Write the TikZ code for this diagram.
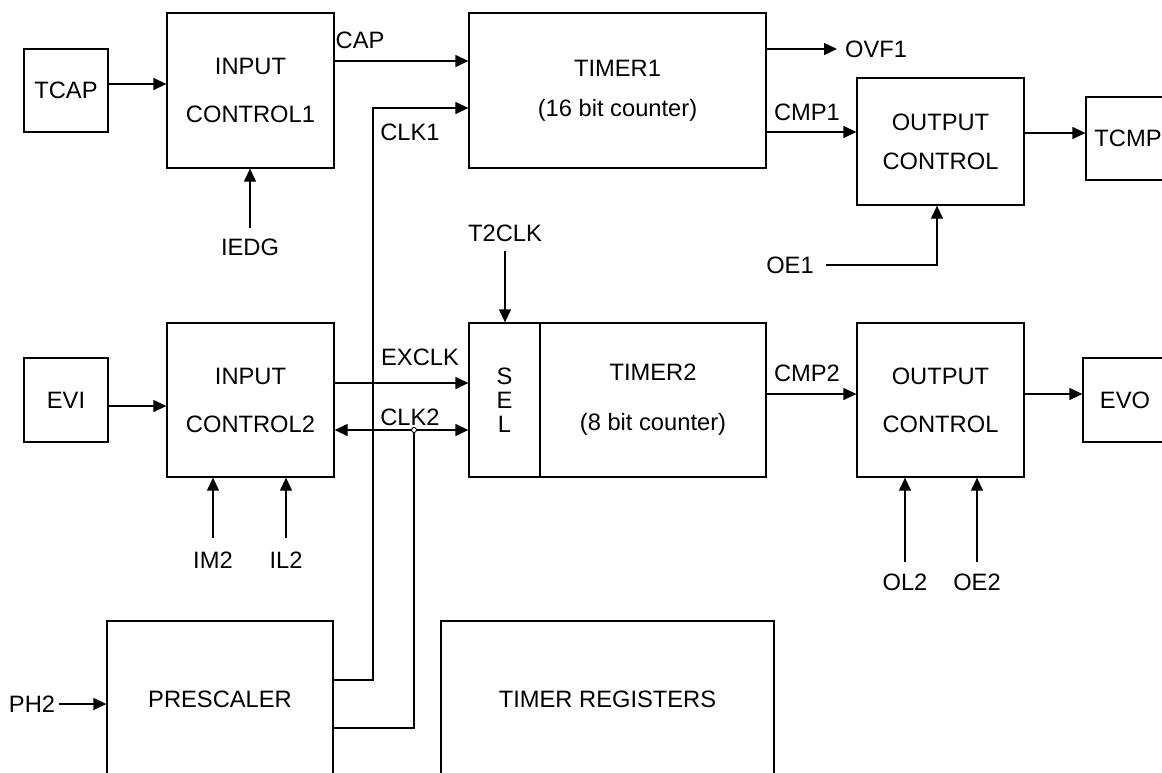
\documentclass[tikz,border=0pt]{standalone}
\usepackage{fontspec}
\setmainfont{Liberation Sans}
\usetikzlibrary{arrows.meta}

\tikzset{
	blk/.style={draw, line width=1.3pt, inner sep=0pt, align=center},
	lbl/.style={inner sep=0pt},
	sig/.style={line width=1.3pt, -{Triangle[length=13pt,width=12pt]}},
	sigb/.style={line width=1.3pt, {Triangle[length=13pt,width=12pt]}-{Triangle[length=13pt,width=12pt]}},
	wire/.style={line width=1.3pt},
}

\begin{document}
\begin{tikzpicture}[x=1pt, y=-1pt, font=\fontsize{23.7pt}{28pt}\selectfont]
	\useasboundingbox (0,0) rectangle (1162,772);
	\clip (0,0) rectangle (1162,772);

	% timer 1 row
	\node [blk, minimum width=84, minimum height=83] (tcap) at (66,90.5) {TCAP};
	\node [blk, minimum width=167, minimum height=155] (icA) at (250.5,90.5) {INPUT\\[20pt]CONTROL1};
	\node [blk, minimum width=297, minimum height=155] (timA) at (617.5,90.5) {TIMER1\\[12pt](16 bit counter)};
	\node [blk, minimum width=167, minimum height=127] (ocA) at (940.5,141.5) {OUTPUT\\[11pt]CONTROL};
	\node [blk, minimum width=84, minimum height=83] (tcmp) at (1128,138.5) {TCMP};

	% timer 2 row
	\node [blk, minimum width=84, minimum height=84] (evi) at (66,400) {EVI};
	\node [blk, minimum width=167, minimum height=154] (icB) at (250.5,400) {INPUT\\[20pt]CONTROL2};
	\node [blk, minimum width=71, minimum height=154, font=\fontsize{23.7pt}{24pt}\selectfont] (sel) at (504.5,400) {S\\E\\L};
	\node [blk, minimum width=226, minimum height=154] (timB) at (653,400) {TIMER2\\[22pt](8 bit counter)};
	\node [blk, minimum width=167, minimum height=154] (ocB) at (940.5,400) {OUTPUT\\[20pt]CONTROL};
	\node [blk, minimum width=84, minimum height=84] (evo) at (1125,400) {EVO};

	% bottom row
	\node [blk, minimum width=226, minimum height=156] (pre) at (220,699) {PRESCALER};
	\node [blk, minimum width=333, minimum height=156] (treg) at (607.5,699) {TIMER REGISTERS};

	% signal names
	\node [lbl] (iedg) at (250,247) {IEDG};
	\node [lbl] (oe1) at (790,265) {OE1};
	\node [lbl] (t2clk) at (505,233) {T2CLK};
	\node [lbl] (im2) at (213,560) {IM2};
	\node [lbl] (il2) at (286,560) {IL2};
	\node [lbl] (ol2) at (905,582) {OL2};
	\node [lbl] (oe2) at (977,582) {OE2};
	\node [lbl] (ph2) at (32,704) {PH2};
	\node [lbl, anchor=west] (ovf1) at (845,49) {OVF1};
	\node [lbl] (cap) at (360,40) {CAP};
	\node [lbl] (clkA) at (410,132) {CLK1};
	\node [lbl] (cmpA) at (807,112) {CMP1};
	\node [lbl] (exclk) at (420,357) {EXCLK};
	\node [lbl] (clkB) at (410,417) {CLK2};
	\node [lbl] (cmpB) at (807,373) {CMP2};

	\coordinate (jn) at (414,430);

	% timer 1 paths
	\draw [sig] ([yshift=6.5pt]tcap.east) coordinate (a1) -- (a1 -| icA.west);
	\draw [sig, shorten <=10pt] (iedg) -- (iedg |- icA.south);
	\draw [sig] ([yshift=29.5pt]icA.east) coordinate (a2) -- (a2 -| timA.west);
	\draw [sig] ([yshift=41.5pt]timA.east) coordinate (a3) -- ([xshift=-8pt]ovf1.west);
	\draw [sig] ([yshift=-41.5pt]timA.east) coordinate (a4) -- (a4 -| ocA.west);
	\draw [sig, shorten <=12pt] (oe1) -| ([xshift=-3.5pt]ocA.south);
	\draw [sig] ([yshift=8.5pt]ocA.east) coordinate (a5) -- (a5 -| tcmp.west);

	% timer 2 paths
	\draw [sig] ([yshift=-6pt]evi.east) coordinate (b1) -- (b1 -| icB.west);
	\draw [sig, shorten <=14pt] (im2) -- (im2 |- icB.south);
	\draw [sig, shorten <=14pt] (il2) -- (il2 |- icB.south);
	\draw [sig, shorten <=9.5pt] (t2clk) -- (t2clk |- sel.north);
	\draw [sig] ([yshift=17pt]icB.east) coordinate (b2) -- (b2 -| sel.west);
	\draw [sigb] ([yshift=-30pt]icB.east) coordinate (b3) -- (b3 -| sel.west);
	\draw [sig] ([yshift=6pt]timB.east) coordinate (b4) -- (b4 -| ocB.west);
	\draw [sig] ([yshift=6pt]ocB.east) coordinate (b5) -- (b5 -| evo.west);
	\draw [sig, shorten <=11.5pt] (ol2) -- (ol2 |- ocB.south);
	\draw [sig, shorten <=11.5pt] (oe2) -- (oe2 |- ocB.south);

	% prescaler clocks
	\draw [sig, shorten <=4pt] (ph2) -- (ph2 -| pre.west);
	\draw [sig] ([yshift=19pt]pre.east) -- (373,680) |- ([yshift=-17.5pt]timA.west);
	\draw [wire] ([yshift=-29pt]pre.east) -| (jn);
	\draw [line width=0.9pt, fill=white] (jn) circle (2.5pt);
\end{tikzpicture}
\end{document}
